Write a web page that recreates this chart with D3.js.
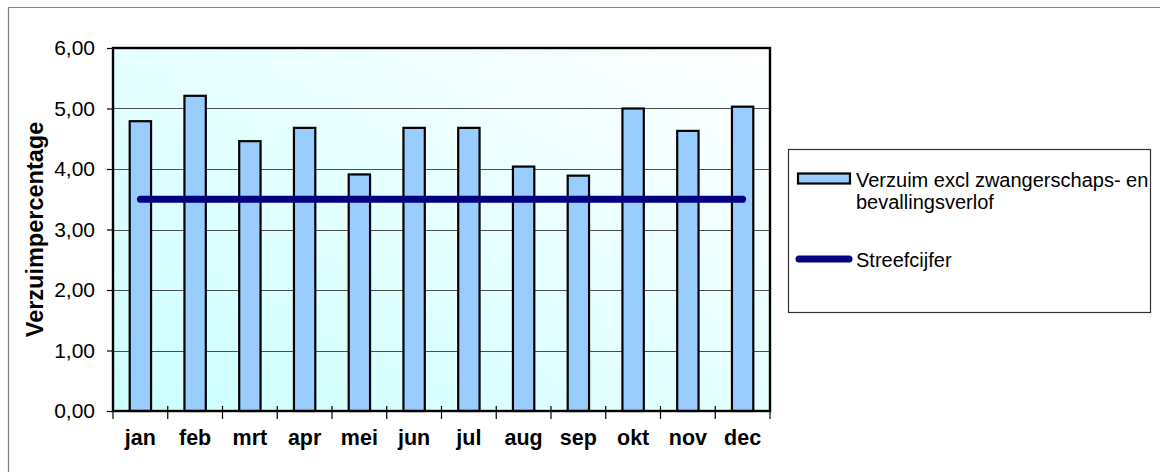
<!DOCTYPE html>
<html>
<head>
<meta charset="utf-8">
<script src="https://cdn.jsdelivr.net/npm/d3@7"></script>
<style>
  html, body { margin: 0; padding: 0; background: #fff; }
  svg { display: block; font-family: "Liberation Sans", Arial, sans-serif; }
</style>
</head>
<body>
<svg id="chart" width="1160" height="472"></svg>
<script>
// Ziekteverzuim per maand (%)
const months = ["jan", "feb", "mrt", "apr", "mei", "jun", "jul", "aug", "sep", "okt", "nov", "dec"];
const verzuim = [4.79, 5.21, 4.46, 4.68, 3.91, 4.68, 4.68, 4.04, 3.89, 5.00, 4.63, 5.03];
const streefcijfer = [3.5, 3.5, 3.5, 3.5, 3.5, 3.5, 3.5, 3.5, 3.5, 3.5, 3.5, 3.5];
const yTicks = [0, 1, 2, 3, 4, 5, 6];
const seriesNames = ["Verzuim excl zwangerschaps- en", "bevallingsverlof", "Streefcijfer"];
const yTitle = "Verzuimpercentage";

const svg = d3.select("#chart");
const plot = { left: 113, top: 48, right: 770, bottom: 411 };

// outer chart frame
svg.append("path")
  .attr("d", "M8.5,472 V7.5 H1160")
  .attr("fill", "none").attr("stroke", "#808080").attr("stroke-width", 1.2);

const x = d3.scaleBand().domain(months).range([plot.left, plot.right]).padding(0);
const y = d3.scaleLinear().domain([0, 6]).range([plot.bottom, plot.top]);

// plot background gradient
const defs = svg.append("defs");
const grad = defs.append("linearGradient").attr("id", "bg")
  .attr("x1", "0").attr("y1", "1").attr("x2", "1").attr("y2", "0");
grad.append("stop").attr("offset", "0%").attr("stop-color", "#ccffff");
grad.append("stop").attr("offset", "100%").attr("stop-color", "#ffffff");

svg.append("rect")
  .attr("x", plot.left).attr("y", plot.top)
  .attr("width", plot.right - plot.left).attr("height", plot.bottom - plot.top)
  .attr("fill", "url(#bg)");

// gridlines
svg.append("g").selectAll("line")
  .data(yTicks.filter(d => d > 0 && d < 6))
  .join("line")
  .attr("x1", plot.left).attr("x2", plot.right)
  .attr("y1", d => Math.round(y(d)) + 0.5).attr("y2", d => Math.round(y(d)) + 0.5)
  .attr("stroke", "#4d4d4d").attr("stroke-width", 1);

// bars
const barW = x.bandwidth() * 0.39;
svg.append("g").selectAll("rect")
  .data(months.map((m, i) => ({ m, v: verzuim[i] })))
  .join("rect")
  .attr("x", d => x(d.m) + x.bandwidth() / 2 - barW / 2)
  .attr("y", d => y(d.v))
  .attr("width", barW)
  .attr("height", d => y(0) - y(d.v))
  .attr("fill", "#99ccff")
  .attr("stroke", "#000").attr("stroke-width", 2.2);

// target line
const line = d3.line()
  .x((d, i) => x(months[i]) + x.bandwidth() / 2)
  .y(d => y(d));
svg.append("path")
  .datum(streefcijfer)
  .attr("d", line)
  .attr("fill", "none")
  .attr("stroke", "#000080").attr("stroke-width", 7)
  .attr("stroke-linecap", "round");

// plot border
svg.append("rect")
  .attr("x", plot.left).attr("y", plot.top)
  .attr("width", plot.right - plot.left).attr("height", plot.bottom - plot.top)
  .attr("fill", "none").attr("stroke", "#000").attr("stroke-width", 2.4);

// y axis
const yAxis = d3.axisLeft(y).tickValues(yTicks)
  .tickFormat(d => d3.format(".2f")(d).replace(".", ","))
  .tickSize(6).tickPadding(12);
const gy = svg.append("g").attr("transform", `translate(${plot.left},0)`).call(yAxis);
gy.select(".domain").remove();
gy.selectAll(".tick line").attr("stroke", "#000").attr("stroke-width", 1.2);
gy.selectAll(".tick text")
  .attr("font-size", 21).attr("fill", "#000")
  .attr("font-family", "'Liberation Sans', Arial, sans-serif");

// x axis: ticks at category boundaries, labels centred
const boundaries = months.map(m => x(m)).concat([plot.right]);
svg.append("g").selectAll("line")
  .data(boundaries)
  .join("line")
  .attr("x1", d => d).attr("x2", d => d)
  .attr("y1", plot.bottom - 5).attr("y2", plot.bottom + 8)
  .attr("stroke", "#000").attr("stroke-width", 1.2);

svg.append("g").selectAll("text")
  .data(months)
  .join("text")
  .attr("x", d => x(d) + x.bandwidth() / 2)
  .attr("y", 445)
  .attr("text-anchor", "middle")
  .attr("font-size", 21.5).attr("font-weight", "bold")
  .text(d => d);

// y axis title
svg.append("text")
  .attr("transform", `translate(43,${(plot.top + plot.bottom) / 2}) rotate(-90)`)
  .attr("text-anchor", "middle")
  .attr("font-size", 23.5).attr("font-weight", "bold")
  .text(yTitle);

// legend
const lg = svg.append("g");
lg.append("rect")
  .attr("x", 788.5).attr("y", 149.5).attr("width", 362).attr("height", 163)
  .attr("fill", "#fff").attr("stroke", "#333").attr("stroke-width", 1.2);
lg.append("rect")
  .attr("x", 798).attr("y", 173.5).attr("width", 52).attr("height", 10)
  .attr("fill", "#99ccff").attr("stroke", "#000").attr("stroke-width", 2.2);
lg.append("text").attr("x", 856).attr("y", 187).attr("font-size", 20).text(seriesNames[0]);
lg.append("text").attr("x", 856).attr("y", 208.5).attr("font-size", 20).text(seriesNames[1]);
lg.append("line")
  .attr("x1", 799).attr("x2", 849).attr("y1", 259).attr("y2", 259)
  .attr("stroke", "#000080").attr("stroke-width", 7).attr("stroke-linecap", "round");
lg.append("text").attr("x", 856).attr("y", 266.5).attr("font-size", 20).text(seriesNames[2]);
</script>
</body>
</html>
